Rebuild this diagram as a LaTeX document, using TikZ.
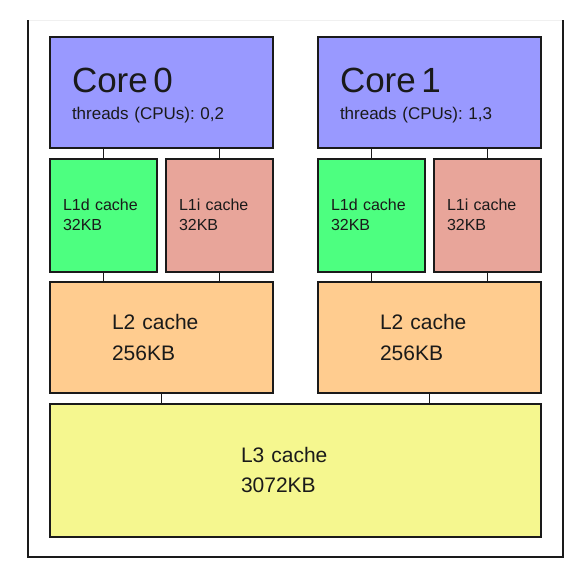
\documentclass[tikz,border=0pt]{standalone}
\usepackage{fontspec}
\setmainfont{Liberation Sans}
\usepackage{xcolor}
\usetikzlibrary{positioning}
\frenchspacing

\definecolor{corefill}{HTML}{9999FF}
\definecolor{lonedfill}{HTML}{4DFF80}
\definecolor{loneifill}{HTML}{E8A59A}
\definecolor{ltwofill}{HTML}{FFCC8F}
\definecolor{lthreefill}{HTML}{F5F78F}
\definecolor{edge}{HTML}{1A1A1A}

\begin{document}
\begin{tikzpicture}[
		% box styles (1pt = 1 pixel of the layout)
		cachebox/.style={draw=edge, line width=2pt, inner sep=0pt, outer sep=0pt, align=left, text=edge},
		corebox/.style={cachebox, fill=corefill, minimum width=223pt, minimum height=111pt, text width=179pt, font=\fontsize{17}{27}\selectfont},
		lonedbox/.style={cachebox, fill=lonedfill, minimum width=107pt, minimum height=113pt, text width=81pt, font=\fontsize{16}{20}\selectfont},
		loneibox/.style={lonedbox, fill=loneifill},
		ltwobox/.style={cachebox, fill=ltwofill, minimum width=223pt, minimum height=111pt, text width=99pt, font=\fontsize{21}{31}\selectfont},
		lthreebox/.style={cachebox, fill=lthreefill, minimum width=491pt, minimum height=133pt, text width=109pt, font=\fontsize{21}{30}\selectfont},
		link/.style={draw=edge, line width=1.8pt},
		chip/.style={draw=edge, line width=2pt},
		% uniform spacing between levels
		node distance=10.5pt,
	]
	\useasboundingbox (0pt,0pt) rectangle (578pt,-576pt);

	% package outline
	\draw[black!6, line width=1pt] (28pt,-20pt) -- (563pt,-20pt);
	\draw[chip] (28pt,-20pt) -- (28pt,-557pt) -- (563pt,-557pt) -- (563pt,-20pt);

	% cores
	\node[corebox, anchor=north west] (core0) at (50pt,-37pt) {\rule{0pt}{31pt}{\fontsize{35}{35}\selectfont Core 0}\\threads (CPUs): 0,2};
	\node[corebox, right=45pt of core0] (core1) {\rule{0pt}{31pt}{\fontsize{35}{35}\selectfont Core 1}\\threads (CPUs): 1,3};

	% per-core caches
	\foreach \c in {0,1} {
		\node[lonedbox, below=of core\c.south west, anchor=north west] (lone\c d) {L1d cache\\32KB};
		\node[loneibox, below=of core\c.south east, anchor=north east] (lone\c i) {L1i cache\\32KB};
		\node[ltwobox, below=of lone\c d.south west, anchor=north west] (ltwo\c) {L2 cache\\256KB};
	}

	% shared cache
	\node[lthreebox, below=of ltwo0.south west, anchor=north west] (lthree) {L3 cache\\3072KB};

	% links
	\foreach \c in {0,1} {
		\draw[link] (lone\c d.north) -- (lone\c d.north |- core\c.south);
		\draw[link] (lone\c i.north) -- (lone\c i.north |- core\c.south);
		\draw[link] (lone\c d.south) -- (lone\c d.south |- ltwo\c.north);
		\draw[link] (lone\c i.south) -- (lone\c i.south |- ltwo\c.north);
		\draw[link] (ltwo\c.south) -- (ltwo\c.south |- lthree.north);
	}
\end{tikzpicture}
\end{document}
